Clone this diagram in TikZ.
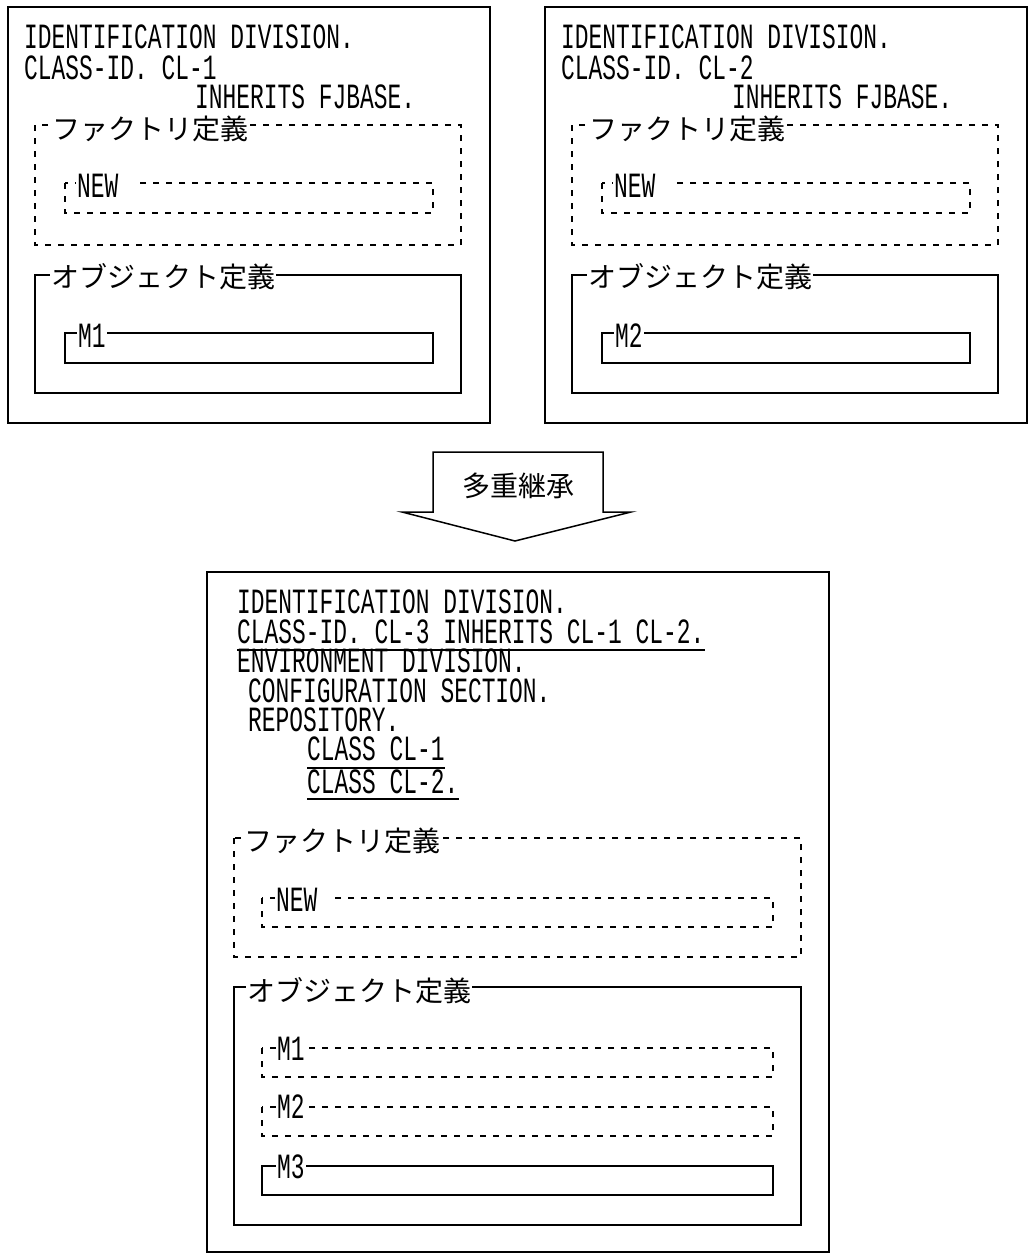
\documentclass[tikz,border=0pt]{standalone}
\usepackage{fontspec}
\newfontfamily\codef[FakeStretch=0.645]{Liberation Mono}
\newfontfamily\jpf{Noto Sans CJK JP}
\tikzset{
  obox/.style={draw=black, line width=1.7pt},
  box/.style={draw=black, line width=1.5pt},
  dbox/.style={draw=black, line width=1.5pt, dash pattern=on 6pt off 7pt},
  codetxt/.style={font=\codef\fontsize{35.5}{35.5}\selectfont, inner sep=0pt, anchor=base west, text height=21pt, text depth=5pt},
  clab/.style={font=\codef\fontsize{35.5}{35.5}\selectfont, fill=white, inner sep=1pt, anchor=base west, text height=21pt, text depth=2pt},
  jlab/.style={font=\jpf\fontsize{28}{28}\selectfont, fill=white, inner sep=1pt, anchor=base west},
  jtxt/.style={font=\jpf\fontsize{28}{28}\selectfont, inner sep=0pt, anchor=base},
  uline/.style={draw=black, line width=1.6pt}
}
\begin{document}
\begin{tikzpicture}[x=1pt,y=-1pt]
\useasboundingbox (0,0) rectangle (1028,1254);
\fill[white] (0,0) rectangle (1028,1254);

% two source classes
\foreach \dx/\n in {0/1,537/2}{
 \begin{scope}[xshift=\dx pt]
  \draw[obox] (8,7) rectangle (490,423);
  \node[codetxt] (id\n) at (24,48) {IDENTIFICATION DIVISION.};
  \node[codetxt] (cls\n) at (24,79) {CLASS-ID. CL-\n};
  \node[codetxt] (inh\n) at (195,108) {INHERITS FJBASE.};
  \draw[dbox] (35,125) rectangle (461,245);
  \node[jlab] (fac\n) at (51,139) {ファクトリ定義};
  \draw[dbox] (65,183) rectangle (433,213);
  \node[clab] (new\n) at (76,197) {NEW\kern20pt};
  \draw[box] (35,275) rectangle (461,393);
  \node[jlab] (obj\n) at (50,287) {オブジェクト定義};
  \draw[box] (65,333) rectangle (433,363);
  \node[clab] (m\n) at (77,347) {M\n};
 \end{scope}
}

% arrow
\draw[box, line join=miter] (433,512) -- (433,452) -- (603,452) -- (603,512)
  -- (631,512) -- (515,541) -- (402,512) -- cycle;
\node[jtxt] (multi) at (518,496) {多重継承};

% resulting class
\draw[obox] (207,572) rectangle (829,1252);
\node[codetxt] (l1) at (237,613) {IDENTIFICATION DIVISION.};
\node[codetxt] (l2) at (237,643) {CLASS-ID. CL-3 INHERITS CL-1 CL-2.};
\node[codetxt] (l3) at (237,672) {ENVIRONMENT DIVISION.};
\node[codetxt] (l4) at (248,702) {CONFIGURATION SECTION.};
\node[codetxt] (l5) at (248,731) {REPOSITORY.};
\node[codetxt] (l6) at (307,760) {CLASS CL-1};
\node[codetxt] (l7) at (307,793) {CLASS CL-2.};
\draw[uline] ([yshift=-7pt]l2.base west) -- ([yshift=-7pt]l2.base east);
\draw[uline] ([yshift=-8pt]l6.base west) -- ([yshift=-8pt]l6.base east);
\draw[uline] ([yshift=-6pt]l7.base west) -- ([yshift=-6pt]l7.base east);

\draw[dbox] (234,838) rectangle (801,957);
\node[jlab] (fac3) at (243,851) {ファクトリ定義};
\draw[dbox] (262,898) rectangle (773,927);
\node[clab] (new3) at (275,911) {NEW\kern15pt};
\draw[box] (234,987) rectangle (801,1225);
\node[jlab] (obj3) at (246,1001) {オブジェクト定義};
\draw[dbox] (262,1048) rectangle (773,1077);
\node[clab] (m31) at (276,1060) {M1};
\draw[dbox] (262,1107) rectangle (773,1136);
\node[clab] (m32) at (276,1118) {M2};
\draw[box] (262,1166) rectangle (773,1195);
\node[clab] (m33) at (276,1178) {M3};
\end{tikzpicture}
\end{document}
